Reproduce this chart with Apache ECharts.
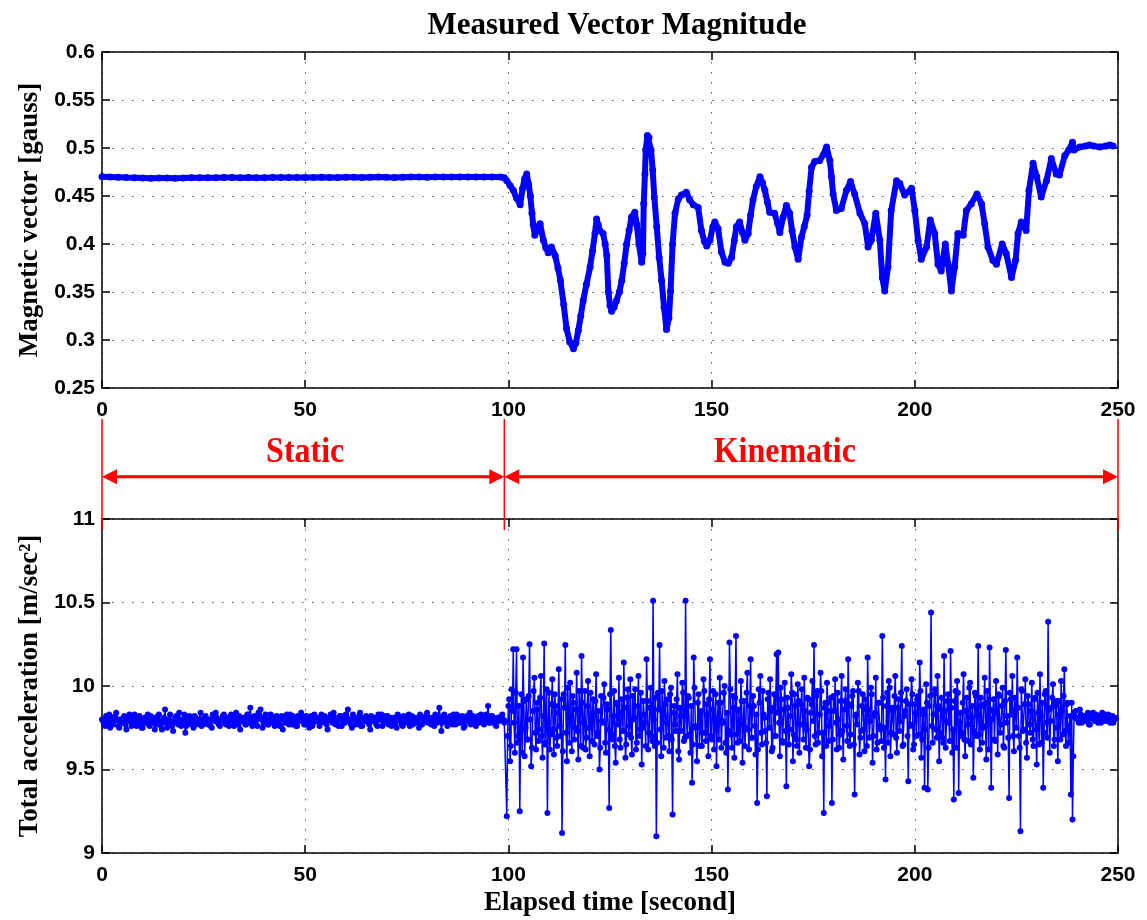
<!DOCTYPE html>
<html>
<head>
<meta charset="utf-8">
<script src="https://cdn.jsdelivr.net/npm/echarts/dist/echarts.min.js"></script>
<style>html,body{margin:0;padding:0;background:#fff}#chart{width:1147px;height:920px}</style>
</head>
<body>
<div id="chart"></div>
<script>
// ---------------- data ----------------
const titleText = 'Measured Vector Magnitude';
const timeTicks = [0, 50, 100, 150, 200, 250];
const magTicks = [0.25, 0.3, 0.35, 0.4, 0.45, 0.5, 0.55, 0.6];
const accTicks = [9, 9.5, 10, 10.5, 11];

// magnetic vector, static phase (sampled every 2 s from t = 0)
const magStaticStart = 0, magStaticStep = 2;
const magStatic = [
  0.4700,0.4698,0.4695,0.4692,0.4690,0.4688,0.4686,0.4688,0.4687,0.4686,
  0.4688,0.4690,0.4689,0.4691,0.4690,0.4692,0.4693,0.4691,0.4692,0.4690,
  0.4691,0.4693,0.4692,0.4694,0.4693,0.4692,0.4694,0.4695,0.4693,0.4694,
  0.4696,0.4695,0.4694,0.4696,0.4697,0.4695,0.4694,0.4696,0.4697,0.4698,
  0.4696,0.4697,0.4698,0.4697,0.4699,0.4698,0.4697,0.4699,0.4698,0.4698
];
// magnetic vector, kinematic phase [time, gauss]
const magKinematic = [
  [99.0,0.469],[99.6,0.466],[100.4,0.461],[101.2,0.456],[102.0,0.448],[102.9,0.441],[103.5,0.458],[104.0,0.468],[104.5,0.473],[105.0,0.462],
  [105.4,0.450],[105.8,0.432],[106.1,0.420],[106.5,0.409],[107.2,0.416],[107.8,0.421],[108.6,0.404],[109.2,0.396],[109.8,0.391],[110.6,0.397],
  [111.5,0.388],[112.2,0.375],[112.8,0.362],[113.6,0.337],[114.3,0.312],[115.1,0.298],[116.0,0.291],[116.6,0.297],[117.2,0.310],[117.8,0.325],
  [118.4,0.341],[119.2,0.358],[120.1,0.376],[120.7,0.393],[121.3,0.411],[121.7,0.426],[122.1,0.420],[122.5,0.414],[123.3,0.411],[123.8,0.400],
  [124.2,0.388],[124.6,0.350],[125.0,0.336],[125.4,0.330],[126.0,0.334],[126.6,0.341],[127.3,0.350],[127.9,0.362],[128.5,0.380],[129.1,0.400],
  [129.7,0.414],[130.3,0.428],[131.1,0.433],[131.6,0.420],[132.1,0.400],[132.8,0.381],[133.1,0.390],[133.3,0.442],[133.6,0.473],[133.8,0.498],
  [134.2,0.513],[134.6,0.511],[135.1,0.498],[135.5,0.477],[135.9,0.449],[136.5,0.418],[137.1,0.386],[137.7,0.362],[138.3,0.334],[138.9,0.311],
  [139.5,0.323],[139.9,0.351],[140.4,0.400],[141.0,0.432],[141.8,0.447],[142.6,0.451],[143.8,0.454],[144.6,0.446],[145.5,0.441],[146.7,0.438],
  [147.5,0.414],[148.2,0.403],[148.8,0.398],[149.6,0.404],[150.3,0.418],[150.8,0.423],[151.6,0.416],[152.4,0.392],[153.3,0.381],[154.1,0.380],
  [154.9,0.386],[155.6,0.404],[156.1,0.418],[156.9,0.423],[157.6,0.412],[158.2,0.404],[159.0,0.411],[159.6,0.430],[160.2,0.446],[161.0,0.460],
  [161.9,0.470],[162.5,0.464],[163.1,0.456],[163.7,0.444],[164.3,0.433],[165.5,0.432],[166.2,0.422],[166.8,0.412],[167.6,0.428],[168.4,0.440],
  [169.2,0.432],[169.8,0.414],[170.5,0.397],[171.3,0.384],[172.1,0.407],[172.8,0.418],[173.5,0.430],[174.0,0.455],[174.6,0.480],[175.4,0.486],
  [176.6,0.487],[177.5,0.493],[178.3,0.501],[179.1,0.487],[179.5,0.470],[179.9,0.452],[180.7,0.435],[181.9,0.437],[183.2,0.456],[184.2,0.465],
  [185.2,0.452],[186.5,0.432],[187.7,0.421],[188.5,0.397],[189.3,0.404],[190.4,0.432],[191.4,0.404],[192.0,0.365],[192.6,0.351],[193.4,0.376],
  [194.2,0.435],[195.5,0.466],[196.3,0.463],[197.5,0.451],[199.2,0.458],[200.0,0.435],[200.8,0.404],[201.6,0.384],[202.9,0.397],[203.8,0.425],
  [204.9,0.411],[205.7,0.379],[206.5,0.372],[207.5,0.400],[208.2,0.379],[209.0,0.351],[209.8,0.376],[210.6,0.411],[211.9,0.409],[212.7,0.435],
  [213.9,0.442],[215.3,0.452],[216.4,0.442],[217.2,0.421],[218.0,0.397],[219.2,0.383],[220.1,0.379],[221.5,0.400],[222.5,0.390],[223.8,0.365],
  [224.8,0.383],[225.4,0.411],[226.2,0.423],[227.4,0.414],[228.1,0.456],[229.1,0.484],[230.0,0.470],[231.1,0.449],[232.4,0.466],[233.6,0.489],
  [234.8,0.473],[235.6,0.472],[236.9,0.492],[237.9,0.498],[238.8,0.506],[239.2,0.498],[240.6,0.501],[242.0,0.502],[243.0,0.503],[244.0,0.502],
  [245.5,0.501],[247.0,0.502],[248.0,0.503],[248.8,0.502]
];

// total acceleration, static phase: samples A every 0.5 s from t = 0, samples B 0.25 s after each A
const accStaticStart = 0, accStaticStep = 0.5;
const accStaticA = [
  9.80,9.77,9.82,9.78,9.75,9.81,9.79,9.84,9.76,9.80,
  9.78,9.82,9.74,9.79,9.81,9.77,9.83,9.76,9.80,9.78,
  9.75,9.81,9.79,9.77,9.82,9.78,9.74,9.80,9.83,9.76,
  9.79,9.86,9.75,9.80,9.77,9.73,9.81,9.78,9.84,9.76,
  9.80,9.72,9.79,9.82,9.77,9.75,9.81,9.78,9.80,9.76,
  9.79,9.82,9.77,9.80,9.75,9.81,9.84,9.78,9.76,9.80,
  9.83,9.77,9.81,9.79,9.82,9.76,9.84,9.78,9.74,9.80,
  9.81,9.77,9.83,9.87,9.76,9.82,9.80,9.84,9.86,9.75,
  9.81,9.79,9.77,9.83,9.80,9.76,9.82,9.78,9.81,9.74,
  9.80,9.83,9.77,9.79,9.82,9.78,9.76,9.81,9.84,9.79,
  9.77,9.80,9.75,9.82,9.78,9.81,9.79,9.76,9.83,9.80,
  9.78,9.74,9.81,9.79,9.84,9.77,9.80,9.82,9.76,9.79,
  9.83,9.86,9.80,9.75,9.81,9.77,9.79,9.84,9.76,9.80,
  9.82,9.78,9.74,9.81,9.79,9.77,9.83,9.80,9.76,9.82,
  9.79,9.77,9.81,9.78,9.80,9.75,9.82,9.79,9.76,9.81,
  9.78,9.83,9.80,9.77,9.81,9.79,9.75,9.82,9.78,9.80,
  9.84,9.79,9.77,9.81,9.83,9.78,9.87,9.73,9.82,9.79,
  9.76,9.81,9.79,9.83,9.77,9.80,9.78,9.82,9.75,9.81,
  9.79,9.84,9.78,9.80,9.76,9.82,9.79,9.81,9.77,9.83,
  9.88,9.78,9.82,9.79,9.76,9.81,9.80,9.83,9.78
];
const accStaticB = [
  9.79,9.76,9.81,9.83,9.78,9.77,9.82,9.80,9.75,9.79,
  9.81,9.77,9.80,9.83,9.76,9.79,9.81,9.78,9.82,9.75,
  9.80,9.78,9.83,9.76,9.79,9.81,9.77,9.82,9.79,9.74,
  9.81,9.78,9.80,9.83,9.76,9.79,9.82,9.77,9.80,9.78,
  9.83,9.76,9.81,9.78,9.80,9.82,9.77,9.79,9.84,9.77,
  9.81,9.78,9.80,9.76,9.83,9.79,9.81,9.77,9.80,9.82,
  9.78,9.81,9.76,9.83,9.79,9.80,9.77,9.82,9.79,9.81,
  9.77,9.83,9.80,9.78,9.81,9.79,9.76,9.82,9.80,9.78,
  9.83,9.77,9.80,9.82,9.78,9.81,9.79,9.76,9.82,9.80,
  9.78,9.81,9.83,9.77,9.80,9.76,9.82,9.79,9.81,9.77,
  9.82,9.78,9.80,9.76,9.83,9.79,9.81,9.78,9.80,9.82,
  9.77,9.80,9.83,9.78,9.81,9.79,9.76,9.82,9.80,9.78,
  9.81,9.79,9.77,9.83,9.80,9.78,9.82,9.76,9.81,9.79,
  9.80,9.77,9.82,9.79,9.81,9.76,9.80,9.83,9.78,9.80,
  9.82,9.79,9.76,9.81,9.78,9.83,9.80,9.77,9.82,9.79,
  9.80,9.76,9.82,9.79,9.78,9.81,9.83,9.77,9.80,9.82,
  9.78,9.81,9.80,9.76,9.82,9.79,9.81,9.78,9.83,9.80,
  9.79,9.82,9.77,9.80,9.83,9.78,9.81,9.79,9.76,9.82,
  9.80,9.77,9.82,9.79,9.81,9.78,9.83,9.80,9.79,9.81,
  9.78,9.82,9.80,9.77,9.81,9.79,9.82,9.80,9.79
];
// total acceleration, kinematic phase: samples A every 0.4 s from t = 99.6, samples B 0.2 s after each A
const accKinStart = 99.6, accKinStep = 0.4;
const accKinematicA = [
  9.22,9.88,9.55,9.98,10.22,9.60,10.22,9.70,9.25,9.95,
  10.17,9.58,9.92,9.68,10.25,9.52,9.85,10.05,9.62,9.90,
  9.74,10.06,9.57,10.255,9.66,9.24,9.96,9.71,10.04,9.59,
  9.88,9.64,10.10,9.70,9.12,9.95,10.245,9.55,9.83,10.02,
  9.61,9.90,9.75,10.08,9.56,9.86,10.18,9.63,9.97,9.69,
  10.03,9.58,9.81,9.92,9.65,10.07,9.72,9.50,9.94,9.78,
  10.01,9.60,9.86,9.27,10.335,9.68,9.97,9.54,9.89,10.05,
  9.63,9.84,10.14,9.57,9.93,9.71,10.04,9.59,9.80,9.98,
  9.66,10.06,9.74,9.53,9.91,9.78,10.16,9.62,9.87,9.70,
  10.51,9.64,9.10,9.96,10.245,9.58,9.84,10.03,9.69,9.92,
  9.61,9.99,9.23,9.88,9.73,10.07,9.56,9.82,10.02,9.67,
  10.51,9.70,9.93,9.60,9.42,10.17,9.76,9.55,9.95,9.83,
  9.64,10.04,9.72,9.89,9.58,10.16,9.68,9.97,9.81,9.52,
  9.90,10.05,9.63,9.78,10.00,9.60,9.38,10.26,9.71,9.94,
  9.57,10.30,9.66,9.86,10.03,9.54,9.91,9.75,10.08,9.62,
  10.16,9.69,9.88,9.59,9.30,9.98,10.06,9.65,9.83,9.73,
  9.34,9.96,10.04,9.61,9.85,9.70,10.19,10.20,9.58,9.92,
  9.66,10.02,9.40,9.87,9.74,10.07,9.55,9.95,9.68,10.01,
  9.60,9.89,9.77,10.05,9.63,9.93,9.52,9.84,10.03,10.245,
  9.65,9.97,9.72,10.08,9.58,9.24,9.90,10.02,9.67,9.85,
  9.30,9.94,10.04,9.62,9.80,9.71,10.06,9.56,9.91,9.76,
  10.16,9.64,9.88,9.97,9.35,9.83,10.02,9.59,9.73,9.95,
  9.61,9.86,10.17,9.69,9.99,9.54,9.82,10.05,9.66,9.90,
  9.74,10.30,9.63,9.44,9.96,10.03,9.58,9.87,9.71,10.06,
  9.60,9.92,9.79,10.24,9.65,9.85,9.98,9.43,9.76,10.04,
  9.62,9.89,9.70,9.94,10.14,9.57,9.83,9.39,10.01,9.38,
  9.88,10.44,9.66,9.95,9.74,10.06,9.55,9.86,9.69,10.18,
  9.63,9.91,9.78,10.21,9.60,9.32,9.97,10.03,9.36,9.84,
  9.72,10.07,9.58,9.93,9.67,10.02,9.81,9.45,9.96,9.70,
  10.24,9.62,9.88,9.75,10.05,9.56,9.90,10.23,9.39,9.85,
  9.68,10.03,9.59,9.94,9.77,9.99,9.63,10.215,9.82,9.33,
  9.92,10.06,9.61,9.86,10.17,9.70,9.13,9.97,9.74,10.04,
  9.57,9.89,9.72,10.02,9.64,9.93,9.53,9.84,10.07,9.66,
  9.39,9.95,9.78,10.385,9.60,9.87,10.01,9.68,9.91,9.55,
  9.83,10.03,9.71,10.10,9.64,9.90,9.76,9.35,9.20,9.84
];
const accKinematicB = [
  9.70,9.92,9.64,9.85,9.78,9.96,9.66,9.88,9.73,9.60,
  9.91,9.75,9.68,9.94,9.80,9.63,9.97,9.72,9.86,9.67,
  9.93,9.70,9.82,9.65,9.98,9.77,9.62,9.89,9.74,9.95,
  9.69,9.84,9.76,9.92,9.61,9.87,9.72,9.99,9.66,9.81,
  9.94,9.68,9.86,9.73,9.97,9.64,9.90,9.78,9.62,9.88,
  9.75,9.96,9.67,9.83,9.91,9.70,9.85,9.63,9.79,9.93,
  9.66,9.89,9.74,9.95,9.71,9.82,9.64,9.90,9.77,9.68,
  9.92,9.73,9.87,9.65,9.98,9.76,9.69,9.94,9.81,9.62,
  9.88,9.70,9.96,9.75,9.83,9.64,9.91,9.72,9.99,9.67,
  9.80,9.93,9.66,9.86,9.74,9.97,9.63,9.89,9.78,9.70,
  9.95,9.68,9.84,9.77,9.92,9.61,9.87,9.73,9.96,9.69,
  9.82,9.94,9.71,9.88,9.65,9.99,9.75,9.90,9.64,9.85,
  9.72,9.97,9.67,9.83,9.92,9.70,9.86,9.62,9.95,9.76,
  9.68,9.90,9.79,9.96,9.66,9.84,9.73,9.98,9.63,9.87,
  9.93,9.71,9.85,9.67,9.91,9.77,9.64,9.96,9.74,9.88,
  9.69,9.94,9.76,9.83,9.62,9.90,9.72,9.97,9.81,9.66,
  9.92,9.75,9.87,9.63,9.95,9.70,9.84,9.78,9.99,9.67,
  9.86,9.73,9.93,9.65,9.82,9.96,9.71,9.88,9.64,9.91,
  9.77,9.98,9.68,9.85,9.74,9.92,9.62,9.89,9.79,9.70,
  9.94,9.66,9.83,9.97,9.72,9.87,9.64,9.90,9.76,9.93,
  9.68,9.85,9.78,9.96,9.63,9.91,9.73,9.86,9.98,9.67,
  9.89,9.71,9.94,9.65,9.82,9.77,9.97,9.69,9.88,9.74,
  9.92,9.64,9.86,9.79,9.95,9.70,9.84,9.62,9.90,9.76,
  9.67,9.93,9.75,9.88,9.66,9.99,9.72,9.85,9.94,9.69,
  9.87,9.73,9.96,9.64,9.82,9.91,9.70,9.89,9.77,9.95,
  9.65,9.84,9.92,9.71,9.97,9.68,9.86,9.74,9.90,9.63,
  9.94,9.76,9.83,9.98,9.69,9.88,9.72,9.93,9.66,9.85,
  9.79,9.95,9.67,9.87,9.74,9.91,9.63,9.96,9.78,9.70,
  9.90,9.68,9.85,9.77,9.99,9.65,9.88,9.73,9.94,9.82,
  9.71,9.93,9.66,9.89,9.76,9.97,9.62,9.86,9.80,9.92,
  9.67,9.84,9.95,9.72,9.88,9.64,9.91,9.78,9.69,9.96,
  9.83,9.70,9.93,9.75,9.87,9.63,9.98,9.73,9.89,9.66,
  9.94,9.77,9.85,9.68,9.92,9.74,9.96,9.65,9.82,9.90,
  9.72,9.97,9.69,9.86,9.79,9.93,9.64,9.88,9.75,9.91,
  9.68,9.85,9.94,9.73,9.89,9.66,9.82,9.90,9.58,9.81
];
// total acceleration, final static phase: samples A every 0.5 s from t = 239.6, samples B 0.25 s after each A
const accEndStart = 239.6, accEndStep = 0.5;
const accEndA = [
  9.85,9.80,9.86,9.78,9.82,9.79,9.84,9.77,9.81,9.80,
  9.83,9.78,9.82,9.84,9.79,9.81,9.83,9.78,9.82,9.80
];
const accEndB = [
  9.81,9.78,9.83,9.80,9.79,9.82,9.77,9.81,9.84,9.79,
  9.80,9.82,9.78,9.81,9.83,9.79,9.80,9.82,9.78,9.81
];

// phase annotation
const phaseBounds = [0, 99, 250];
const phaseNames = ['Static', 'Kinematic'];
const phaseLabelTimes = [50, 168];

// ---------------- build ----------------
function seq(start, step, vals) { return vals.map((v, i) => [+(start + i * step).toFixed(2), v]); }
function interleave(start, step, a, b) {
  const out = [];
  a.forEach((v, i) => {
    out.push([+(start + i * step).toFixed(3), v]);
    if (i < b.length) out.push([+(start + i * step + step / 2).toFixed(3), b[i]]);
  });
  return out;
}
const magData = seq(magStaticStart, magStaticStep, magStatic).concat(magKinematic);
const accData = interleave(accStaticStart, accStaticStep, accStaticA, accStaticB)
  .concat(interleave(accKinStart, accKinStep, accKinematicA, accKinematicB))
  .concat(interleave(accEndStart, accEndStep, accEndA, accEndB));

const BLUE = '#0000ff', RED = '#ff0000';
const tickFont = {fontFamily: 'Liberation Sans', fontWeight: 'bold', fontSize: 21, color: '#000'};
const nameFont = {fontFamily: 'Liberation Serif', fontWeight: 'bold', fontSize: 27, color: '#000'};
const gridLine = {show: true, lineStyle: {color: '#555', width: 1, type: [1.5, 8.5]}};
const axLine = {show: true, onZero: false, lineStyle: {color: '#000', width: 1.5}};
const tick = {show: true, inside: true, length: 8, lineStyle: {color: '#000', width: 1.5}};

const tMin = timeTicks[0], tMax = timeTicks[timeTicks.length - 1], tStep = timeTicks[1] - timeTicks[0];
const mMin = magTicks[0], mMax = magTicks[magTicks.length - 1], mStep = 0.05;
const aMin = accTicks[0], aMax = accTicks[accTicks.length - 1], aStep = 0.5;

function xMain(grid, name) {
  return {type: 'value', gridIndex: grid, min: tMin, max: tMax, interval: tStep, position: 'bottom',
    axisLine: axLine, axisTick: tick, splitLine: gridLine,
    axisLabel: Object.assign({margin: 12}, tickFont),
    name: name || '', nameLocation: 'middle', nameGap: 37, nameTextStyle: nameFont};
}
function xTop(grid) {
  return {type: 'value', gridIndex: grid, min: tMin, max: tMax, interval: tStep, position: 'top',
    axisLine: axLine, axisTick: tick, splitLine: {show: false}, axisLabel: {show: false}};
}
function yMain(grid, mn, mx, st, name) {
  return {type: 'value', gridIndex: grid, min: mn, max: mx, interval: st, position: 'left',
    axisLine: axLine, axisTick: tick, splitLine: gridLine,
    axisLabel: Object.assign({margin: 7}, tickFont),
    name: name, nameLocation: 'middle', nameGap: 58, nameTextStyle: nameFont};
}
function yRight(grid, mn, mx, st) {
  return {type: 'value', gridIndex: grid, min: mn, max: mx, interval: st, position: 'right',
    axisLine: axLine, axisTick: tick, splitLine: {show: false}, axisLabel: {show: false}};
}

const option = {
  animation: false,
  backgroundColor: '#fff',
  title: {text: titleText, left: 612, top: 5, textAlign: 'center',
    textStyle: {fontFamily: 'Liberation Serif', fontWeight: 'bold', fontSize: 31, color: '#000'}},
  grid: [
    {left: 102, top: 52, width: 1016, height: 336},
    {left: 102, top: 519, width: 1016, height: 334},
    {left: 102, top: 419, width: 1016, height: 111}
  ],
  xAxis: [
    xMain(0), xTop(0), xMain(1, 'Elapsed time [second]'), xTop(1),
    {type: 'value', gridIndex: 2, min: tMin, max: tMax, show: false}
  ],
  yAxis: [
    yMain(0, mMin, mMax, mStep, 'Magnetic vector [gauss]'), yRight(0, mMin, mMax, mStep),
    yMain(1, aMin, aMax, aStep, 'Total acceleration [m/sec\u00B2]'), yRight(1, aMin, aMax, aStep),
    {type: 'value', gridIndex: 2, min: 0, max: 1, show: false}
  ],
  series: [
    {type: 'line', xAxisIndex: 0, yAxisIndex: 0, data: magData,
      symbol: 'circle', symbolSize: 7, showAllSymbol: true,
      lineStyle: {color: BLUE, width: 6}, itemStyle: {color: BLUE}},
    {type: 'line', xAxisIndex: 2, yAxisIndex: 2, data: accData,
      symbol: 'circle', symbolSize: 6, showAllSymbol: true,
      lineStyle: {color: BLUE, width: 1.5}, itemStyle: {color: BLUE}},
    // vertical red phase boundaries
    {type: 'custom', xAxisIndex: 4, yAxisIndex: 4, clip: false,
      data: phaseBounds.map(t => [t, 0]),
      renderItem: function (params, api) {
        const p0 = api.coord([api.value(0), 0]);
        const p1 = api.coord([api.value(0), 1]);
        return {type: 'line', shape: {x1: p0[0], y1: p0[1], x2: p1[0], y2: p1[1]},
          style: {stroke: RED, lineWidth: 1.5}};
      }},
    // double arrows
    {type: 'custom', xAxisIndex: 4, yAxisIndex: 4, clip: false,
      data: phaseNames.map((n, i) => [phaseBounds[i], phaseBounds[i + 1], 0.48]),
      encode: {x: [0, 1], y: 2},
      renderItem: function (params, api) {
        const y = api.value(2);
        const a = api.coord([api.value(0), y]);
        const b = api.coord([api.value(1), y]);
        const L = 15, W = 7.5;
        return {type: 'group', children: [
          {type: 'line', shape: {x1: a[0] + L - 1, y1: a[1], x2: b[0] - L + 1, y2: b[1]},
            style: {stroke: RED, lineWidth: 3}},
          {type: 'polygon', shape: {points: [[a[0], a[1]], [a[0] + L, a[1] - W], [a[0] + L, a[1] + W]]},
            style: {fill: RED}},
          {type: 'polygon', shape: {points: [[b[0], b[1]], [b[0] - L, b[1] - W], [b[0] - L, b[1] + W]]},
            style: {fill: RED}}
        ]};
      }},
    // phase labels
    {type: 'custom', xAxisIndex: 4, yAxisIndex: 4, clip: false,
      data: phaseLabelTimes.map(t => [t, 0.70]),
      renderItem: function (params, api) {
        const p = api.coord([api.value(0), api.value(1)]);
        return {type: 'text', x: p[0], y: p[1], scaleY: 1.15,
          style: {text: phaseNames[params.dataIndex], fill: RED,
            font: 'bold 32px "Liberation Serif"', align: 'center', verticalAlign: 'middle'}};
      }}
  ]
};

const chart = echarts.init(document.getElementById('chart'), null, {renderer: 'canvas'});
chart.setOption(option);
</script>
</body>
</html>
